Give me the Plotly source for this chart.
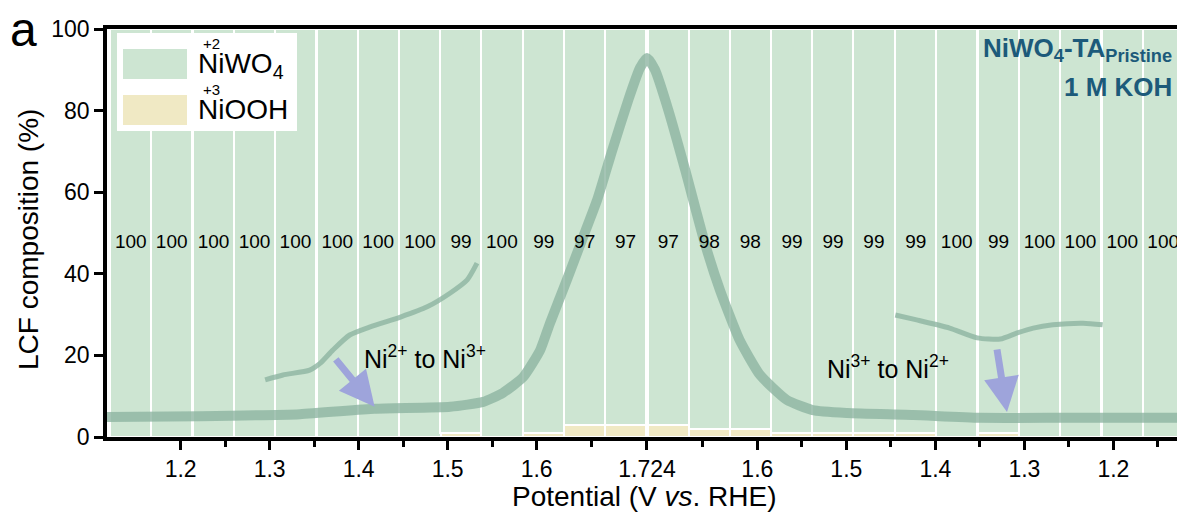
import plotly.graph_objects as go

# ---------------- data ----------------
V_MAX = 1.724  # turning potential of the scan (V vs. RHE)

# potentials of the 26 XAS spectra: 13 on the anodic sweep, 13 on the cathodic sweep
bar_potential_fwd = [1.144, 1.190, 1.237, 1.283, 1.329, 1.376, 1.422,
                     1.469, 1.515, 1.561, 1.608, 1.654, 1.700]
bar_potential_rev = [1.700, 1.654, 1.608, 1.561, 1.515, 1.469, 1.422,
                     1.376, 1.329, 1.283, 1.237, 1.190, 1.144]

# LCF fractions (%)
niwo4_pct = [100, 100, 100, 100, 100, 100, 100, 100, 99, 100, 99, 97, 97,
             97, 98, 98, 99, 99, 99, 99, 100, 99, 100, 100, 100, 100]
niooh_pct = [100 - v for v in niwo4_pct]

# LSV current trace (scaled onto the % axis)
lsv_fwd_V = [1.117, 1.222, 1.334, 1.418, 1.503, 1.540, 1.562, 1.585, 1.604,
             1.615, 1.634, 1.651, 1.668, 1.685, 1.703, 1.716, 1.724]
lsv_fwd_val = [4.9, 5.1, 5.6, 6.9, 7.4, 8.6, 10.8, 14.7, 21.3,
               27.9, 38.5, 48.3, 58.1, 70.3, 82.6, 90.4, 92.9]
lsv_rev_V = [1.715, 1.700, 1.681, 1.659, 1.642, 1.620, 1.597, 1.567,
             1.538, 1.499, 1.425, 1.350, 1.252, 1.128]
lsv_rev_val = [90.0, 80.1, 65.4, 47.5, 36.0, 23.8, 15.2, 9.1,
               6.6, 5.9, 5.4, 4.7, 4.7, 4.7]

# Ni redox features (scaled onto the % axis)
ox_V = [1.295, 1.315, 1.345, 1.357, 1.371, 1.390, 1.413, 1.447, 1.477, 1.503, 1.522, 1.533]
ox_val = [14.0, 15.2, 16.4, 18.1, 21.3, 25.0, 27.0, 29.4, 31.9, 35.3, 38.5, 42.6]
red_V = [1.445, 1.421, 1.384, 1.353, 1.327, 1.308, 1.290, 1.268, 1.234, 1.212]
red_val = [29.9, 28.7, 26.7, 24.3, 24.0, 25.5, 26.7, 27.5, 27.9, 27.5]

# axis ticks
tick_potentials = [1.2, 1.3, 1.4, 1.5, 1.6, 1.724, 1.6, 1.5, 1.4, 1.3, 1.2]
tick_branch = ["fwd"] * 6 + ["rev"] * 5
tick_labels = ["1.2", "1.3", "1.4", "1.5", "1.6", "1.724", "1.6", "1.5", "1.4", "1.3", "1.2"]
y_ticks = [0, 20, 40, 60, 80, 100]

LABEL_Y = 47.5
BAR_PITCH = 0.0464


def scan(v, branch):
    """Map a potential onto the unfolded scan coordinate."""
    return v if branch == "fwd" else 2 * V_MAX - v


bar_x = [scan(v, "fwd") for v in bar_potential_fwd] + [scan(v, "rev") for v in bar_potential_rev]
lsv_x = [scan(v, "fwd") for v in lsv_fwd_V] + [scan(v, "rev") for v in lsv_rev_V]
lsv_y = lsv_fwd_val + lsv_rev_val
ox_x = [scan(v, "fwd") for v in ox_V]
red_x = [scan(v, "rev") for v in red_V]
tick_x = [scan(v, b) for v, b in zip(tick_potentials, tick_branch)]
minor_x = [(a + b) / 2 for a, b in zip(tick_x[:-1], tick_x[1:])] + [tick_x[-1] + (tick_x[-1] - tick_x[-2]) / 2]

# ---------------- style ----------------
FONT = "Arial, Liberation Sans, Helvetica, sans-serif"
GREEN = "#cde5d2"
YELLOW = "#f0e9c4"
CURVE = "rgba(140,180,160,0.78)"
ARROW = "#9ea4db"
TEAL = "#1c5a7a"

W, H = 1177, 515
ML, MR, MT, MB = 107, 0, 29, 78
PW, PH = W - ML - MR, H - MT - MB


def px(xp):
    return (xp - ML) / PW


def py(yp):
    return (H - MB - yp) / PH


fig = go.Figure()

fig.add_trace(go.Bar(x=bar_x, y=niooh_pct, width=BAR_PITCH, name="NiOOH",
                     marker=dict(color=YELLOW, line=dict(color="white", width=2)),
                     hoverinfo="skip"))
fig.add_trace(go.Bar(x=bar_x, y=niwo4_pct, width=BAR_PITCH, name="NiWO4",
                     marker=dict(color=GREEN, line=dict(color="white", width=2)),
                     hoverinfo="skip"))

fig.add_trace(go.Scatter(x=lsv_x, y=lsv_y, mode="lines",
                         line=dict(color=CURVE, width=10, shape="spline", smoothing=0.5),
                         hoverinfo="skip"))
fig.add_trace(go.Scatter(x=ox_x, y=ox_val, mode="lines",
                         line=dict(color=CURVE, width=5, shape="spline", smoothing=0.6),
                         hoverinfo="skip"))
fig.add_trace(go.Scatter(x=red_x, y=red_val, mode="lines",
                         line=dict(color=CURVE, width=5, shape="spline", smoothing=0.6),
                         hoverinfo="skip"))

fig.add_trace(go.Scatter(x=bar_x, y=[LABEL_Y] * len(bar_x), mode="text",
                         text=[str(v) for v in niwo4_pct],
                         textfont=dict(family=FONT, size=19, color="black"),
                         textposition="middle center", cliponaxis=False,
                         hoverinfo="skip"))

annotations = []
# arrows marking the Ni redox features
for (hx, hy, tx, ty) in [(scan(1.418, "fwd"), 7.4, scan(1.373, "fwd"), 19.4),
                         (scan(1.3195, "rev"), 6.1, scan(1.331, "rev"), 21.8)]:
    annotations.append(dict(x=hx, y=hy, ax=tx, ay=ty, xref="x", yref="y", axref="x", ayref="y",
                            showarrow=True, arrowhead=2, arrowsize=1.0, arrowwidth=7,
                            arrowcolor=ARROW, standoff=0, text=""))


def note(xp, yp, text, size, color="black", xanchor="center", yanchor="middle", **kw):
    return dict(x=px(xp), y=py(yp), xref="paper", yref="paper", xanchor=xanchor,
                yanchor=yanchor, showarrow=False, text=text,
                font=dict(family=FONT, size=size, color=color), **kw)


annotations += [
    dict(x=scan(1.4746, "fwd"), y=19.6, xref="x", yref="y", showarrow=False,
         xanchor="center", yanchor="middle",
         text="Ni<sup>2+</sup> to Ni<sup>3+</sup>", font=dict(family=FONT, size=25, color="black")),
    dict(x=scan(1.4532, "rev"), y=17.2, xref="x", yref="y", showarrow=False,
         xanchor="center", yanchor="middle",
         text="Ni<sup>3+</sup> to Ni<sup>2+</sup>", font=dict(family=FONT, size=25, color="black")),
    # panel letter
    note(23, 30, "a", 48),
    # sample / electrolyte label
    note(1174, 49, "<b>NiWO<sub>4</sub>-TA<sub>Pristine</sub></b>", 26, TEAL, xanchor="right"),
    note(1174, 87, "<b>1 M KOH</b>", 26, TEAL, xanchor="right"),
    # axis titles
    note(644, 497, "Potential (V <i>vs</i>. RHE)", 28),
    note(29, 240, "LCF composition (%)", 28, textangle=-90),
    # legend text
    note(196, 65, "NiWO<sub>4</sub>", 28, xanchor="left"),
    note(201, 43, "+2", 15, xanchor="left"),
    note(196, 110, "NiOOH", 28, xanchor="left"),
    note(201, 89, "+3", 15, xanchor="left"),
]

shapes = [
    dict(type="rect", xref="paper", yref="paper", x0=px(117), x1=px(297), y0=py(131), y1=py(33),
         fillcolor="white", line=dict(width=0), layer="above"),
    dict(type="rect", xref="paper", yref="paper", x0=px(123), x1=px(187), y0=py(79), y1=py(49),
         fillcolor=GREEN, line=dict(width=0), layer="above"),
    dict(type="rect", xref="paper", yref="paper", x0=px(123), x1=px(187), y0=py(125), y1=py(95),
         fillcolor=YELLOW, line=dict(width=0), layer="above"),
]

fig.update_layout(
    width=W, height=H, margin=dict(l=ML, r=MR, t=MT, b=MB, pad=0),
    paper_bgcolor="white", plot_bgcolor="white",
    barmode="stack", bargap=0, showlegend=False,
    font=dict(family=FONT, color="black"),
    annotations=annotations, shapes=shapes,
    xaxis=dict(range=[1.1173, 2.3195], showgrid=False, zeroline=False,
               showline=True, linecolor="black", linewidth=3.5, mirror=True,
               tickmode="array", tickvals=tick_x, ticktext=tick_labels,
               ticks="outside", ticklen=9, tickwidth=3, tickcolor="black",
               tickfont=dict(family=FONT, size=23, color="black"),
               minor=dict(tickmode="array", tickvals=minor_x, ticks="outside",
                          ticklen=6, tickwidth=3, tickcolor="black")),
    yaxis=dict(range=[0, 100], showgrid=False, zeroline=False,
               showline=True, linecolor="black", linewidth=3.5,
               tickmode="array", tickvals=y_ticks,
               ticks="outside", ticklen=9, tickwidth=3, tickcolor="black",
               tickfont=dict(family=FONT, size=23, color="black")),
)

fig.write_html("out.html")
